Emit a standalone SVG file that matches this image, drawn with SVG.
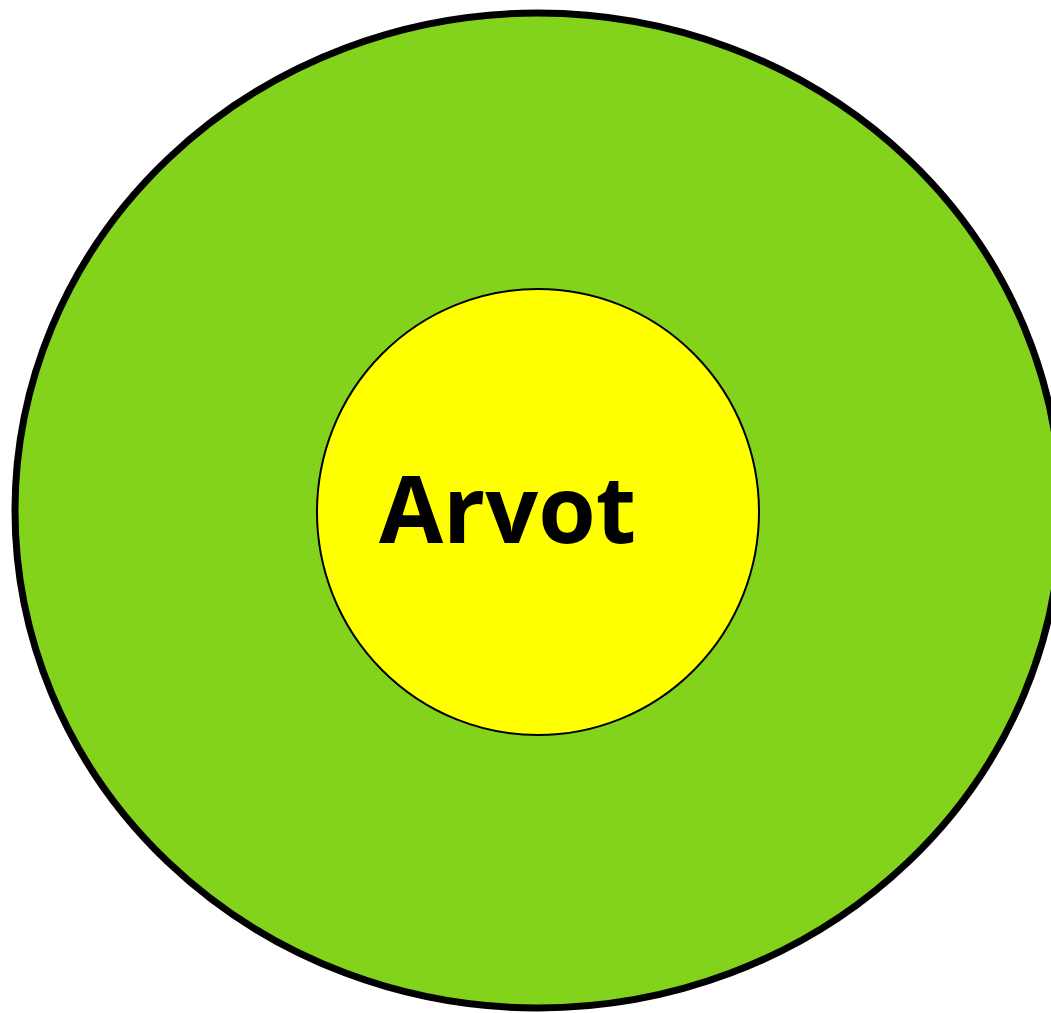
<svg xmlns="http://www.w3.org/2000/svg" width="1051" height="1013" viewBox="0 0 1051 1013">
<style>
.lbl{font-family:"Open Sans","Noto Sans",sans-serif;font-weight:bold;font-size:93px;fill:#000}
</style>
<rect width="1051" height="1013" fill="#fff"/>
<g id="outer">
<ellipse cx="538" cy="510.5" rx="523" ry="497.5" fill="#83d31c" stroke="#000" stroke-width="7"/>
</g>
<g id="inner">
<ellipse cx="538" cy="512" rx="221" ry="223" fill="#ffff00" stroke="#000" stroke-width="2"/>
<text class="lbl" x="507.5" y="543" text-anchor="middle">Arvot</text>
</g>
<g id="connectors"/>
</svg>
